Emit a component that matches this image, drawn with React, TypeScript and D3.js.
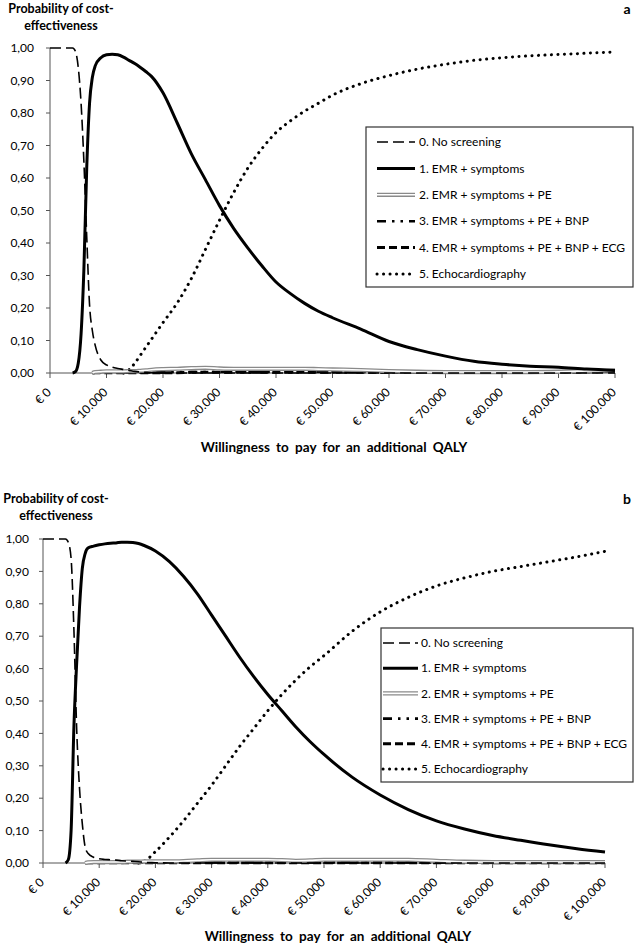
import React from "react";
import * as d3 from "d3";

// ---------- DATA ----------
const WTP = [0, 2000, 4000, 4500, 5000, 5500, 6000, 6500, 7000, 7500, 8000, 9000, 10000, 11000, 12000, 13000, 14000, 15000, 16000, 17000, 18000, 20000, 22500, 25000, 27500, 30000, 32500, 35000, 37500, 40000, 42500, 45000, 47500, 50000, 55000, 60000, 65000, 70000, 75000, 80000, 85000, 90000, 95000, 100000];

const X_TICKS = [0, 10000, 20000, 30000, 40000, 50000, 60000, 70000, 80000, 90000, 100000];
const Y_TICKS = [0, 0.1, 0.2, 0.3, 0.4, 0.5, 0.6, 0.7, 0.8, 0.9, 1.0];

const SERIES_NAMES = [
  "0. No screening",
  "1. EMR + symptoms",
  "2. EMR + symptoms + PE",
  "3. EMR + symptoms + PE + BNP",
  "4. EMR + symptoms + PE + BNP + ECG",
  "5. Echocardiography",
];

// Panel a
const aNoScreening = [1, 1, 1, 0.99, 0.94, 0.83, 0.65, 0.42, 0.21, 0.13, 0.085, 0.04, 0.025, 0.018, 0.014, 0.011, 0.008, 0.005, 0.003, 0.002, 0.001, 0, 0, 0, 0, 0, 0, 0, 0, 0, 0, 0, 0, 0, 0, 0, 0, 0, 0, 0, 0, 0, 0, 0];
const aEmrSymptoms = [0, 0, 0, 0.004, 0.03, 0.12, 0.32, 0.63, 0.83, 0.91, 0.945, 0.97, 0.979, 0.981, 0.979, 0.972, 0.962, 0.952, 0.94, 0.927, 0.912, 0.862, 0.77, 0.675, 0.595, 0.515, 0.445, 0.385, 0.33, 0.28, 0.245, 0.215, 0.19, 0.17, 0.135, 0.097, 0.072, 0.052, 0.036, 0.027, 0.021, 0.018, 0.012, 0.008];
const aPE = [0, 0, 0, 0, 0, 0, 0, 0, 0, 0, 0.003, 0.004, 0.005, 0.005, 0.005, 0.005, 0.006, 0.006, 0.007, 0.008, 0.01, 0.012, 0.013, 0.015, 0.016, 0.014, 0.013, 0.013, 0.013, 0.013, 0.013, 0.013, 0.012, 0.011, 0.009, 0.006, 0.004, 0.003, 0.003, 0.003, 0.003, 0.004, 0.006, 0.008];
const aBNP = [0, 0, 0, 0, 0, 0, 0, 0, 0, 0, 0.001, 0.002, 0.002, 0.002, 0.002, 0.002, 0.002, 0.002, 0.002, 0.002, 0.002, 0.002, 0.003, 0.003, 0.003, 0.003, 0.003, 0.003, 0.003, 0.003, 0.003, 0.003, 0.003, 0.003, 0.003, 0.002, 0.002, 0.002, 0.002, 0.002, 0.002, 0.002, 0.003, 0.004];
const aECG = [0, 0, 0, 0, 0, 0, 0, 0, 0, 0, 0.001, 0.001, 0.001, 0.001, 0.001, 0.001, 0.001, 0.001, 0.001, 0.001, 0.001, 0.001, 0.001, 0.002, 0.002, 0.002, 0.002, 0.002, 0.002, 0.002, 0.002, 0.002, 0.002, 0.002, 0.002, 0.002, 0.002, 0.002, 0.002, 0.002, 0.003, 0.003, 0.004, 0.005];
const aEcho = [0, 0, 0, 0, 0, 0, 0, 0, 0, 0, 0, 0, 0, 0, 0, 0, 0.01, 0.03, 0.055, 0.08, 0.105, 0.155, 0.215, 0.29, 0.38, 0.47, 0.555, 0.63, 0.69, 0.74, 0.775, 0.805, 0.83, 0.855, 0.89, 0.915, 0.935, 0.95, 0.962, 0.97, 0.976, 0.98, 0.984, 0.988];

// Panel b
const bNoScreening = [1, 1, 1, 0.99, 0.94, 0.72, 0.41, 0.23, 0.12, 0.05, 0.03, 0.018, 0.013, 0.011, 0.01, 0.009, 0.007, 0.006, 0.005, 0.004, 0.002, 0.001, 0, 0, 0, 0, 0, 0, 0, 0, 0, 0, 0, 0, 0, 0, 0, 0, 0, 0, 0, 0, 0, 0];
const bEmrSymptoms = [0, 0, 0, 0.01, 0.1, 0.42, 0.62, 0.79, 0.91, 0.955, 0.972, 0.978, 0.982, 0.985, 0.987, 0.988, 0.99, 0.99, 0.989, 0.986, 0.98, 0.963, 0.93, 0.885, 0.83, 0.765, 0.7, 0.635, 0.575, 0.52, 0.47, 0.42, 0.375, 0.335, 0.265, 0.21, 0.165, 0.13, 0.105, 0.085, 0.07, 0.056, 0.044, 0.034];
const bPE = [0, 0, 0, 0, 0, 0, 0, 0, 0, 0, 0.002, 0.003, 0.003, 0.003, 0.003, 0.003, 0.003, 0.004, 0.004, 0.004, 0.005, 0.005, 0.005, 0.006, 0.008, 0.01, 0.01, 0.01, 0.01, 0.01, 0.009, 0.007, 0.008, 0.01, 0.01, 0.01, 0.01, 0.007, 0.004, 0.003, 0.003, 0.003, 0.003, 0.003];
const bBNP = [0, 0, 0, 0, 0, 0, 0, 0, 0, 0, 0.001, 0.001, 0.001, 0.001, 0.001, 0.001, 0.001, 0.002, 0.002, 0.002, 0.002, 0.002, 0.002, 0.002, 0.002, 0.002, 0.002, 0.002, 0.002, 0.002, 0.002, 0.002, 0.002, 0.002, 0.002, 0.002, 0.002, 0.002, 0.002, 0.002, 0.002, 0.002, 0.002, 0.002];
const bECG = [0, 0, 0, 0, 0, 0, 0, 0, 0, 0, 0.001, 0.001, 0.001, 0.001, 0.001, 0.001, 0.001, 0.001, 0.001, 0.001, 0.001, 0.001, 0.001, 0.001, 0.001, 0.001, 0.001, 0.001, 0.001, 0.001, 0.001, 0.001, 0.001, 0.001, 0.001, 0.001, 0.001, 0.001, 0.001, 0.001, 0.001, 0.001, 0.001, 0.001];
const bEcho = [0, 0, 0, 0, 0, 0, 0, 0, 0, 0, 0, 0, 0, 0, 0, 0, 0, 0, 0, 0, 0.005, 0.035, 0.08, 0.13, 0.185, 0.24, 0.3, 0.36, 0.415, 0.47, 0.52, 0.565, 0.605, 0.64, 0.715, 0.775, 0.82, 0.855, 0.88, 0.9, 0.915, 0.93, 0.945, 0.962];

const Y_TITLE = ["Probability of cost-", "effectiveness"];
const X_TITLE = "Willingness to pay for an additional QALY";

// ---------- STYLES ----------
const FONT = "Lato, 'Open Sans', sans-serif";

type StyleDef = { layers: { stroke: string; width: number; dash?: string; cap?: string }[] };
const STYLES: StyleDef[] = [
  { layers: [{ stroke: "#000", width: 1.6, dash: "11,5" }] },
  { layers: [{ stroke: "#000", width: 3 }] },
  { layers: [{ stroke: "#8a8a8a", width: 4.2 }, { stroke: "#fff", width: 1.6 }] },
  { layers: [{ stroke: "#000", width: 2.6, dash: "9,6,2.5,6,2.5,6" }] },
  { layers: [{ stroke: "#000", width: 3, dash: "8,4" }] },
  { layers: [{ stroke: "#000", width: 3, dash: "0.1,6.4", cap: "round" }] },
];

const fmtY = (v: number) => d3.format(".2f")(v).replace(".", ",");
const fmtX = (v: number) => "€ " + d3.format(",")(v).replace(/,/g, ".");

type PanelProps = {
  series: number[][];
  x0: number; x1: number; yTop: number; yBottom: number;
  legend: { x: number; y: number; w: number; h: number; row0: number; rowStep: number; sx0: number; sx1: number; tx: number };
  titleX: number; titleY: number;
  letter: string; letterX: number; letterY: number;
  xTitleX: number; xTitleY: number;
  yLabelOffset: number;
};

function Panel(p: PanelProps) {
  const x = d3.scaleLinear().domain([0, 100000]).range([p.x0, p.x1]);
  const y = d3.scaleLinear().domain([0, 1]).range([p.yBottom, p.yTop]);
  const makeLine = (vals: number[]) => {
    const first = vals.findIndex((v) => v > 0);
    const start = Math.max(0, first - 1);
    return d3
      .line<number>()
      .defined((_, i) => i >= start)
      .x((_, i) => x(WTP[i]))
      .y((v) => y(v))
      .curve(d3.curveMonotoneX)(vals) as string;
  };
  const order = [5, 4, 3, 2, 0, 1];
  return (
    <g>
      {/* y title */}
      <text x={p.titleX} y={p.titleY} textAnchor="middle" fontFamily={FONT} fontWeight="bold" fontSize={12.5} fill="#000">
        <tspan x={p.titleX} dy={0}>{Y_TITLE[0]}</tspan>
        <tspan x={p.titleX} dy={16.5}>{Y_TITLE[1]}</tspan>
      </text>
      <text x={p.letterX} y={p.letterY} textAnchor="middle" fontFamily={FONT} fontWeight="bold" fontSize={14} fill="#000">{p.letter}</text>
      {/* y axis */}
      <line x1={p.x0} x2={p.x0} y1={y(1)} y2={y(0)} stroke="#555" strokeWidth={1} />
      {Y_TICKS.map((t) => (
        <g key={t}>
          <line x1={p.x0 - 4} x2={p.x0} y1={y(t)} y2={y(t)} stroke="#555" strokeWidth={1} />
          <text x={p.x0 - p.yLabelOffset} y={y(t)} dy="0.35em" textAnchor="end" fontFamily={FONT} fontSize={12} fill="#000">{fmtY(t)}</text>
        </g>
      ))}
      {/* x axis */}
      <line x1={p.x0} x2={p.x1} y1={y(0)} y2={y(0)} stroke="#555" strokeWidth={1} />
      {X_TICKS.map((t) => (
        <g key={t}>
          <line x1={x(t)} x2={x(t)} y1={y(0)} y2={y(0) + 5} stroke="#555" strokeWidth={1} />
          <text transform={`translate(${x(t) + 2},${y(0) + 20}) rotate(-45)`} textAnchor="end" fontFamily={FONT} fontSize={12} fill="#000">{fmtX(t)}</text>
        </g>
      ))}
      <text x={p.xTitleX} y={p.xTitleY} textAnchor="middle" fontFamily={FONT} fontWeight="bold" fontSize={13.5} wordSpacing={3} fill="#000">{X_TITLE}</text>
      {/* series */}
      {order.map((si) => {
        const d = makeLine(p.series[si]);
        return STYLES[si].layers.map((l, li) => (
          <path key={`${si}-${li}`} d={d} fill="none" stroke={l.stroke} strokeWidth={l.width} strokeDasharray={l.dash} strokeLinecap={(l.cap as any) || "butt"} strokeLinejoin="round" />
        ));
      })}
      {/* legend */}
      <rect x={p.legend.x} y={p.legend.y} width={p.legend.w} height={p.legend.h} fill="#fff" stroke="#333" strokeWidth={1.2} />
      {SERIES_NAMES.map((name, i) => {
        const ry = p.legend.row0 + i * p.legend.rowStep;
        return (
          <g key={name}>
            {STYLES[i].layers.map((l, li) => (
              <line key={li} x1={p.legend.sx0} x2={p.legend.sx1} y1={ry} y2={ry} stroke={l.stroke} strokeWidth={l.width} strokeDasharray={l.dash} strokeLinecap={(l.cap as any) || "butt"} />
            ))}
            <text x={p.legend.tx} y={ry} dy="0.35em" fontFamily={FONT} fontSize={12} fill="#000">{name}</text>
          </g>
        );
      })}
    </g>
  );
}

export default function App() {
  return (
    <svg width={636} height={945} style={{ position: "absolute", left: 0, top: 0, background: "#fff" }}>
      <rect x={0} y={0} width={636} height={945} fill="#fff" />
      <Panel
        series={[aNoScreening, aEmrSymptoms, aPE, aBNP, aECG, aEcho]}
        x0={50} x1={615} yTop={48} yBottom={373}
        legend={{ x: 366, y: 127, w: 267, h: 160, row0: 142, rowStep: 26.4, sx0: 377, sx1: 415, tx: 419 }}
        titleX={61} titleY={13}
        letter="a" letterX={627} letterY={14}
        xTitleX={334} xTitleY={452}
        yLabelOffset={16}
      />
      <Panel
        series={[bNoScreening, bEmrSymptoms, bPE, bBNP, bECG, bEcho]}
        x0={43} x1={605} yTop={539} yBottom={863}
        legend={{ x: 381, y: 628, w: 252, h: 154, row0: 643, rowStep: 25.2, sx0: 383, sx1: 418, tx: 421 }}
        titleX={56} titleY={503}
        letter="b" letterX={627} letterY={504}
        xTitleX={338} xTitleY={941}
        yLabelOffset={14}
      />
    </svg>
  );
}
